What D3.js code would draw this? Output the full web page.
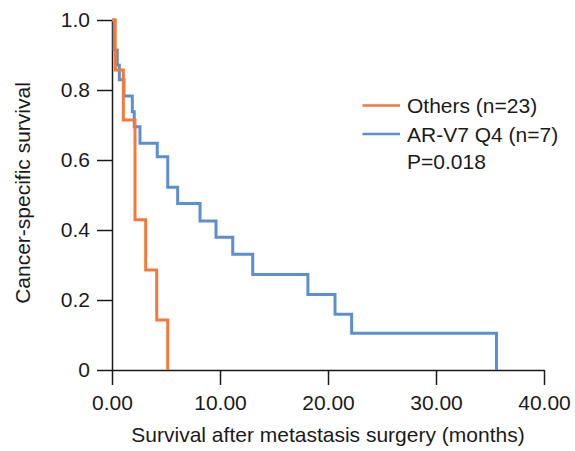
<!DOCTYPE html>
<html>
<head>
<meta charset="utf-8">
<script src="https://cdn.jsdelivr.net/npm/d3@7"></script>
<style>
  html, body { margin: 0; padding: 0; background: #fff; }
  svg { display: block; }
  text { font-family: "Liberation Sans", Arial, Helvetica, sans-serif; fill: #1a1a1a; }
</style>
</head>
<body>
<svg id="chart" width="575" height="451"></svg>
<script>
// Kaplan-Meier survival steps (event time in months, survival after event)
const othersTimes = [0.3, 1.05, 2.13, 3.12, 4.14, 5.16];
const othersSurv  = [0.857, 0.714, 0.429, 0.286, 0.143, 0];

const arv7Times = [0.2, 0.49, 0.68, 1.11, 1.88, 2.06, 2.59, 4.19, 5.16, 6.08, 8.15, 9.63, 11.18, 13.03, 18.14, 20.65, 22.19, 35.6];
const arv7Surv  = [0.914, 0.871, 0.829, 0.783, 0.738, 0.695, 0.648, 0.609, 0.522, 0.476, 0.426, 0.379, 0.331, 0.273, 0.216, 0.159, 0.105, 0];

const xTicks = [0, 10, 20, 30, 40];
const xTickLabels = ["0.00", "10.00", "20.00", "30.00", "40.00"];
const yTicks = [0, 0.2, 0.4, 0.6, 0.8, 1.0];
const yTickLabels = ["0", "0.2", "0.4", "0.6", "0.8", "1.0"];

const seriesNames = ["Others (n=23)", "AR-V7 Q4 (n=7)"];
const seriesColors = ["#f5793a", "#5a8fd2"];
const pValueText = "P=0.018";

const svg = d3.select("#chart");
const fontSize = 21;

const x = d3.scaleLinear().domain([0, 40]).range([112, 544]);
const y = d3.scaleLinear().domain([0, 1]).range([370, 20]);

// Axes
const xAxis = d3.axisBottom(x)
  .tickValues(xTicks)
  .tickFormat((d, i) => xTickLabels[i])
  .tickSize(15).tickSizeOuter(0).tickPadding(10);
const yAxis = d3.axisLeft(y)
  .tickValues(yTicks)
  .tickFormat((d, i) => yTickLabels[i])
  .tickSize(15).tickSizeOuter(0).tickPadding(7);

const gx = svg.append("g").attr("transform", `translate(0,${y(0)})`).call(xAxis);
const gy = svg.append("g").attr("transform", `translate(${x(0)},0)`).call(yAxis);

[gx, gy].forEach(g => {
  g.select(".domain").attr("stroke", "#1a1a1a").attr("stroke-width", 1.5);
  g.selectAll(".tick line").attr("stroke", "#1a1a1a").attr("stroke-width", 1.5);
  g.selectAll(".tick text").attr("font-size", fontSize)
    .attr("font-family", "'Liberation Sans', Arial, Helvetica, sans-serif")
    .attr("fill", "#1a1a1a");
});

// Axis titles
svg.append("text")
  .attr("x", (x(0) + x(40)) / 2)
  .attr("y", 442)
  .attr("text-anchor", "middle")
  .attr("font-size", fontSize)
  .text("Survival after metastasis surgery (months)");

svg.append("text")
  .attr("transform", "translate(30,193) rotate(-90)")
  .attr("text-anchor", "middle")
  .attr("font-size", fontSize)
  .text("Cancer-specific survival");

// Survival curves
const stepLine = d3.line()
  .x(d => x(d[0]))
  .y(d => y(d[1]))
  .curve(d3.curveStepAfter);

function steps(times, surv) {
  return [[0, 1]].concat(times.map((t, i) => [t, surv[i]]));
}

const curves = [
  { pts: steps(arv7Times, arv7Surv), color: seriesColors[1] },
  { pts: steps(othersTimes, othersSurv), color: seriesColors[0] }
];

svg.append("g").selectAll("path")
  .data(curves)
  .join("path")
  .attr("d", d => stepLine(d.pts))
  .attr("fill", "none")
  .attr("stroke", d => d.color)
  .attr("stroke-width", 3);

// Legend
const legend = svg.append("g");
const legendY = [105.5, 134];
seriesNames.forEach((name, i) => {
  legend.append("line")
    .attr("x1", 362.5).attr("x2", 400)
    .attr("y1", legendY[i]).attr("y2", legendY[i])
    .attr("stroke", seriesColors[i]).attr("stroke-width", 2.5);
  legend.append("text")
    .attr("x", 407).attr("y", legendY[i] + 7.5)
    .attr("font-size", fontSize)
    .text(name);
});
legend.append("text")
  .attr("x", 407).attr("y", 169)
  .attr("font-size", fontSize)
  .text(pValueText);
</script>
</body>
</html>
